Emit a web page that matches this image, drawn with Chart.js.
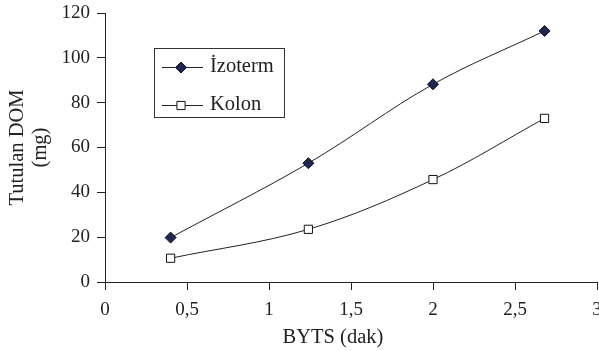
<!DOCTYPE html>
<html>
<head>
<meta charset="utf-8">
<script src="https://cdn.jsdelivr.net/npm/chart.js@4/dist/chart.umd.min.js"></script>
<style>
  html, body { margin: 0; padding: 0; background: #fff; overflow: hidden; }
  #wrap { width: 599px; height: 351px; }
</style>
</head>
<body>
<div id="wrap"><canvas id="chart"></canvas></div>
<script>
// ── data ──
const SERIES_NAMES = ['İzoterm', 'Kolon'];
const BYTS_DAK = [0.4, 1.24, 2.0, 2.68];
const IZOTERM_MG = [19.8, 53, 88.2, 112];
const KOLON_MG = [10.6, 23.5, 45.7, 73];

const X_TITLE = 'BYTS (dak)';
const Y_TITLE = ['Tutulan DOM', '(mg)'];

const INK = '#222';
const SERIF = "'Liberation Serif', 'Times New Roman', serif";

const toPoints = ys => BYTS_DAK.map((x, i) => ({ x, y: ys[i] }));
const comma = v => String(v).replace('.', ',');

// legend box inside the plot + x title (sits a bit left of centre in the original)
const boxLegend = {
    id: 'boxLegend',
    afterDraw(chart) {
        const { ctx, chartArea } = chart;
        const xs = chart.scales.x;
        ctx.save();

        ctx.fillStyle = INK;
        ctx.font = `20.5px ${SERIF}`;
        ctx.textAlign = 'center';
        ctx.textBaseline = 'alphabetic';
        ctx.fillText(X_TITLE, xs.getPixelForValue(1.39), xs.bottom - 8);

        const x0 = chartArea.left + 49, y0 = chartArea.top + 35;
        const w = 130, h = 69;
        ctx.fillStyle = '#fff';
        ctx.fillRect(x0, y0, w, h);
        ctx.strokeStyle = '#333';
        ctx.lineWidth = 1;
        ctx.strokeRect(x0 + 0.5, y0 + 0.5, w, h);

        chart.data.datasets.forEach((ds, i) => {
            const y = y0 + 19.5 + i * 38;
            ctx.strokeStyle = ds.borderColor;
            ctx.lineWidth = 1;
            ctx.beginPath();
            ctx.moveTo(x0 + 8, y);
            ctx.lineTo(x0 + 49, y);
            ctx.stroke();

            ctx.fillStyle = ds.pointBackgroundColor;
            ctx.strokeStyle = ds.pointBorderColor;
            Chart.helpers.drawPoint(ctx, {
                pointStyle: ds.pointStyle,
                radius: ds.pointRadius,
                borderWidth: ds.pointBorderWidth,
                rotation: 0,
            }, x0 + 27, y);

            ctx.fillStyle = INK;
            ctx.textAlign = 'left';
            ctx.fillText(ds.label, x0 + 56, y + 4);
        });
        ctx.restore();
    }
};

new Chart(document.getElementById('chart'), {
    type: 'scatter',
    data: {
        datasets: [
            {
                label: SERIES_NAMES[0],
                data: toPoints(IZOTERM_MG),
                showLine: true,
                tension: 0.35,
                borderColor: INK,
                borderWidth: 1,
                pointStyle: 'rectRot',
                pointRadius: 5.5,
                pointBackgroundColor: '#1d2657',
                pointBorderColor: '#111',
                pointBorderWidth: 1,
            },
            {
                label: SERIES_NAMES[1],
                data: toPoints(KOLON_MG),
                showLine: true,
                tension: 0.35,
                borderColor: INK,
                borderWidth: 1,
                pointStyle: 'rect',
                pointRadius: 5.8,
                pointBackgroundColor: '#fff',
                pointBorderColor: '#111',
                pointBorderWidth: 1,
            },
        ]
    },
    options: {
        responsive: true,
        maintainAspectRatio: false,
        animation: false,
        // the "3" label runs off the right edge in the original, so let it
        layout: { autoPadding: false, padding: { top: 13, right: 2, bottom: 0, left: 0 } },
        plugins: {
            legend: { display: false },
            tooltip: { enabled: false },
        },
        scales: {
            x: {
                type: 'linear',
                min: 0,
                max: 3,
                ticks: {
                    stepSize: 0.5,
                    font: { family: SERIF, size: 19 },
                    color: INK,
                    padding: 9,
                    maxRotation: 0,
                    callback: v => comma(v),
                },
                grid: { drawOnChartArea: false, tickLength: 8, color: INK },
                border: { color: INK, width: 1 },
                afterFit: axis => { axis.height = 69; axis.paddingRight = 0; axis.paddingLeft = 0; },
            },
            y: {
                min: 0,
                max: 120,
                ticks: {
                    stepSize: 20,
                    font: { family: SERIF, size: 19 },
                    color: INK,
                    padding: 7,
                },
                grid: { drawOnChartArea: false, tickLength: 8, color: INK },
                border: { color: INK, width: 1 },
                title: {
                    display: true,
                    text: Y_TITLE,
                    font: { family: SERIF, size: 20.5, lineHeight: 1.12 },
                    color: INK,
                    padding: { top: 6, bottom: 0 },
                },
                afterFit: axis => { axis.width = 105; axis.paddingTop = 0; axis.paddingBottom = 0; },
            }
        }
    },
    plugins: [boxLegend]
});
</script>
</body>
</html>
